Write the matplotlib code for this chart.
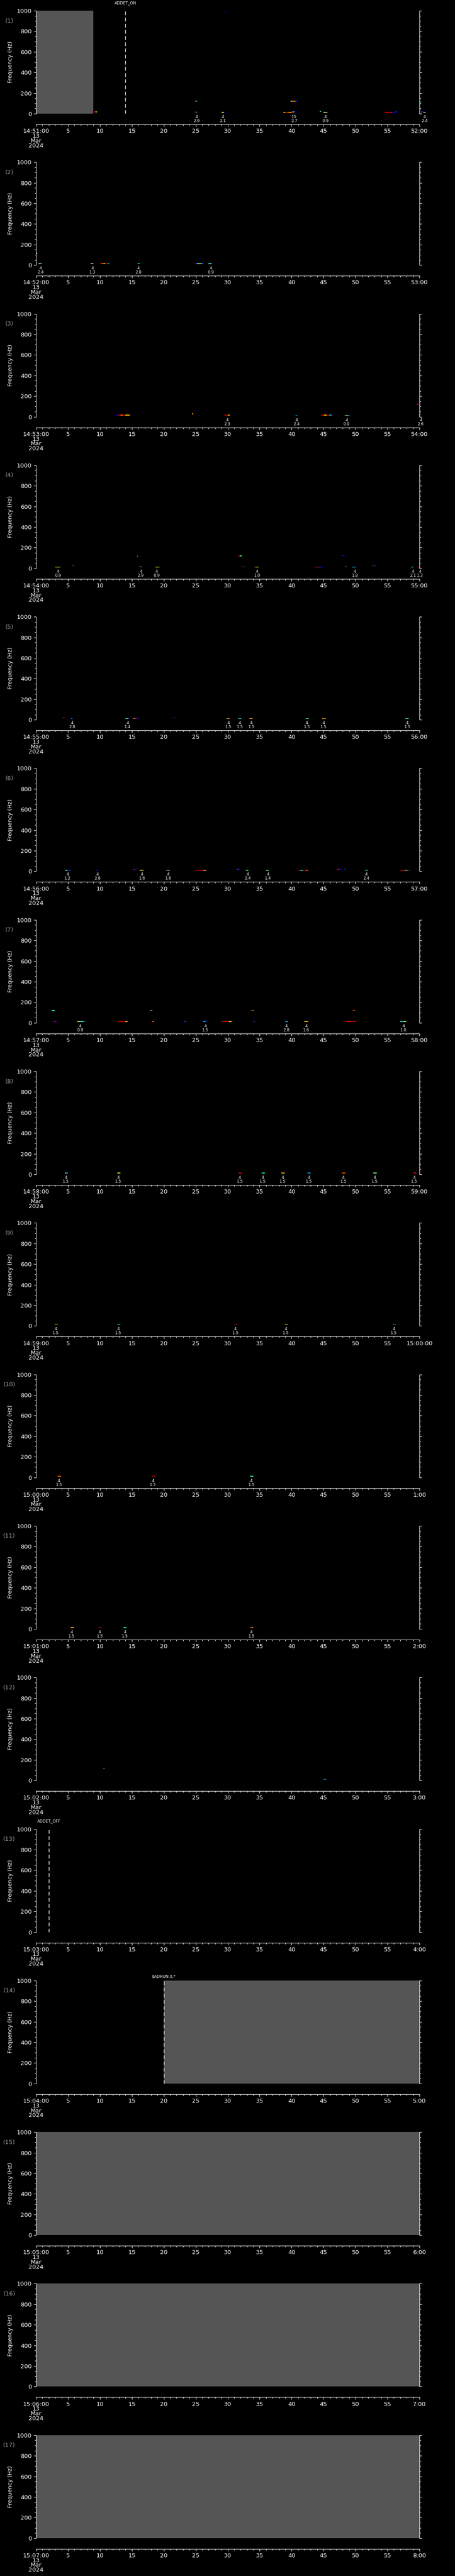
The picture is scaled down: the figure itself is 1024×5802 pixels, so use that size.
import matplotlib
matplotlib.use("Agg")
import matplotlib.pyplot as plt

W, H = 1024, 5802
N_PANELS = 17
SLOT = H / N_PANELS
DPI = 100
PT = 72.0 / DPI  # points per pixel

# ---- data -------------------------------------------------------------
start_labels = ["14:51:00", "14:52:00", "14:53:00", "14:54:00", "14:55:00",
                "14:56:00", "14:57:00", "14:58:00", "14:59:00", "15:00:00",
                "15:01:00", "15:02:00", "15:03:00", "15:04:00", "15:05:00",
                "15:06:00", "15:07:00"]
end_labels = ["52:00", "53:00", "54:00", "55:00", "56:00", "57:00", "58:00",
              "59:00", "15:00:00", "1:00", "2:00", "3:00", "4:00", "5:00",
              "6:00", "7:00", "8:00"]
date_label = "13\nMar\n2024"

# no-data (grey) intervals, seconds within the minute
gray_spans = {1: [(0, 9)], 14: [(20, 60)], 15: [(0, 60)], 16: [(0, 60)], 17: [(0, 60)]}

# command markers: (panel, second, text, label height above plot in px)
markers = [(1, 14.0, "ADDET_ON", 17.5), (13, 2.0, "ADDET_OFF", 17.5),
           (14, 20.0, "$ADRUN,0,*", 8.5)]

# spectral streaks: (t_start, t_end, freq Hz, colour levels along the streak)
streaks = {
    1: [(9.1, 9.7, 17, [0.9, 0.7, 0.1]), (24.8, 25.4, 122, [0.95, 0.4, 0.1]),
        (24.8, 25.4, 15, [0.95, 0.7, 0.3, 0.1]), (29.0, 29.5, 12, [0.3, 0.6, 0.7, 0.1]),
        (29.55, 29.8, 985, [0.15, 0.1]), (38.7, 40.3, 12, [0.7, 0.95, 0.8, 0.7, 0.95]),
        (40.1, 40.75, 17, [0.7, 0.2, 0.1]), (39.85, 40.85, 122, [0.55, 0.85, 0.75, 0.15]),
        (44.4, 44.7, 21, [0.5, 0.1]), (45.0, 45.7, 12, [0.7, 0.5, 0.2]),
        (54.5, 56.1, 12, [0.95, 0.9, 0.95, 0.9, 0.1]), (56.2, 56.5, 17, [0.15]),
        (60.0, 60.3, 112, [0.3]), (60.2, 60.6, 18, [0.15]), (60.6, 61.0, 12, [0.7, 0.3])],
    2: [(0.0, 0.2, 113, [0.4]), (0.1, 0.45, 21, [0.15]), (0.45, 0.9, 13, [0.7, 0.4]),
        (8.55, 9.15, 13, [0.4, 0.7, 0.5, 0.1]), (10.0, 11.45, 13, [0.95, 0.8, 0.7, 0.95, 0.3]),
        (15.9, 16.2, 13, [0.4]), (24.75, 25.1, 17, [0.95, 0.75]),
        (24.9, 26.3, 13, [0.15, 0.5, 0.7, 0.4, 0.15]), (27.0, 27.7, 13, [0.4, 0.5, 0.1])],
    3: [(12.5, 14.7, 15, [0.1, 0.95, 0.8, 0.95, 0.7, 0.7]), (24.4, 24.6, 28, [0.6, 0.8]),
        (25.45, 25.6, 14, [0.1]), (29.5, 30.3, 15, [0.95, 0.95, 0.7]),
        (40.6, 40.9, 14, [0.3]), (44.6, 46.3, 15, [0.95, 0.7, 0.95, 0.3]),
        (48.3, 49.1, 14, [0.7, 0.6, 0.3]), (59.6, 60.2, 120, [0.95, 0.1]),
        (59.8, 60.3, 18, [0.9, 0.2])],
    4: [(3.0, 3.8, 10, [0.7, 0.6]), (5.6, 5.9, 28, [0.95, 0.4]), (15.8, 16.0, 118, [0.6, 0.2]),
        (16.2, 16.6, 15, [0.7, 0.3]), (18.6, 19.3, 10, [0.7, 0.6]),
        (31.6, 32.2, 120, [0.95, 0.5]), (32.1, 32.7, 15, [0.95, 0.2]),
        (34.2, 34.8, 10, [0.8, 0.6]), (43.6, 44.9, 10, [0.95, 0.9, 0.2, 0.1]),
        (48.0, 48.4, 122, [0.2, 0.1]), (48.3, 48.7, 15, [0.8, 0.2]),
        (49.5, 50.1, 10, [0.4, 0.3]), (52.5, 53.1, 24, [0.95, 0.2]),
        (58.7, 59.1, 10, [0.5, 0.3]), (59.7, 60.2, 10, [0.95, 0.9])],
    5: [(4.2, 4.6, 20, [0.85, 0.95]), (5.5, 5.85, 12, [0.3, 0.1]), (14.0, 14.7, 12, [0.4, 0.6, 0.1]),
        (15.2, 16.0, 14, [0.8, 0.95, 0.1]), (21.3, 21.8, 20, [0.95, 0.1]),
        (29.8, 30.3, 12, [0.7]), (31.6, 32.1, 12, [0.4]), (33.4, 33.9, 12, [0.7]),
        (42.2, 42.7, 12, [0.4]), (44.8, 45.3, 12, [0.7]), (57.8, 58.3, 12, [0.4])],
    6: [(4.5, 5.4, 11, [0.4, 0.2]), (5.6, 5.7, 820, [0.1]), (9.45, 9.75, 11, [0.15]),
        (15.2, 15.7, 19, [0.95, 0.1]), (16.2, 16.8, 11, [0.7, 0.6]), (20.4, 20.9, 11, [0.8, 0.4]),
        (24.9, 26.6, 11, [0.95, 0.95, 0.9, 0.7]), (31.4, 31.9, 19, [0.95, 0.1]),
        (32.8, 33.2, 11, [0.5]), (36.0, 36.4, 11, [0.6, 0.4]),
        (41.0, 42.6, 11, [0.95, 0.4, 0.95, 0.8]), (47.1, 47.8, 19, [0.95, 0.1]),
        (48.2, 48.5, 21, [0.2]), (51.5, 51.9, 11, [0.4]), (56.9, 58.5, 11, [0.95, 0.9, 0.4, 0.95])],
    7: [(2.4, 2.95, 120, [0.35, 0.4]), (2.7, 3.3, 12, [0.95, 0.15]), (6.5, 7.45, 12, [0.6, 0.35, 0.5]),
        (7.5, 7.8, 14, [0.2]), (12.8, 14.35, 12, [0.95, 0.9, 0.95, 0.7]),
        (17.85, 18.2, 122, [0.45, 0.6]), (18.2, 18.5, 12, [0.8, 0.3]), (23.25, 23.5, 12, [0.2]),
        (26.2, 26.75, 12, [0.35, 0.15]), (29.0, 30.6, 12, [0.95, 0.9, 0.95, 0.6]),
        (33.6, 34.1, 122, [0.9, 0.6]), (33.9, 34.3, 14, [0.95, 0.2]), (39.0, 39.4, 12, [0.3]),
        (42.0, 42.6, 12, [0.7, 0.75]), (48.3, 50.1, 12, [0.95, 0.9, 0.95, 0.95]),
        (49.4, 49.9, 122, [0.95, 0.75]), (57.0, 57.9, 12, [0.4, 0.3, 0.6])],
    8: [(4.5, 5.0, 12, [0.7, 0.3]), (12.7, 13.2, 12, [0.6]), (31.7, 32.2, 12, [0.9]),
        (35.3, 35.8, 12, [0.4]), (38.4, 38.9, 12, [0.7]), (42.5, 43.0, 12, [0.3]),
        (47.9, 48.4, 12, [0.8]), (52.8, 53.3, 12, [0.5]), (59.0, 59.5, 12, [0.9])],
    9: [(2.9, 3.4, 12, [0.7]), (12.7, 13.2, 12, [0.4]), (31.0, 31.5, 12, [0.9]),
        (38.9, 39.4, 12, [0.6]), (55.8, 56.3, 12, [0.3])],
    10: [(3.4, 3.9, 12, [0.8]), (18.1, 18.6, 12, [0.95]), (33.5, 34.0, 12, [0.4])],
    11: [(5.4, 5.9, 12, [0.7]), (9.8, 10.3, 12, [0.95]), (13.7, 14.2, 12, [0.4]),
         (33.5, 34.0, 12, [0.8])],
    12: [(10.5, 10.8, 120, [0.4]), (45.0, 45.4, 12, [0.3])],
}

# event annotations under the plot: (second, count, value)
events = {
    1: [(25.1, "4", "2.9"), (29.25, "4", "2.1"), (40.4, "15", "2.7"), (45.3, "4", "0.9"),
        (60.8, "4", "2.4")],
    2: [(0.7, "4", "2.4"), (8.85, "4", "1.3"), (16.05, "4", "2.8"), (27.35, "4", "0.9")],
    3: [(29.9, "4", "2.3"), (40.8, "4", "2.4"), (48.6, "4", "0.9"), (60.2, "4", "2.6")],
    4: [(3.45, "4", "0.9"), (16.4, "4", "2.9"), (18.9, "4", "0.9"), (34.6, "4", "1.0"),
        (49.9, "4", "1.8"), (59.0, "4", "2.1"), (60.1, "4", "1.3")],
    5: [(5.65, "4", "2.8"), (14.35, "4", "1.4"), (30.1, "4", "1.5"), (31.9, "4", "1.5"),
        (33.7, "4", "1.5"), (42.4, "4", "1.5"), (45.0, "4", "1.5"), (58.1, "4", "1.5")],
    6: [(4.95, "4", "1.2"), (9.6, "4", "2.8"), (16.6, "4", "1.6"), (20.7, "4", "1.6"),
        (33.1, "4", "2.4"), (36.3, "4", "1.4"), (51.7, "4", "2.4")],
    7: [(6.9, "4", "0.9"), (26.5, "4", "1.5"), (39.2, "4", "2.8"), (42.3, "4", "1.6"),
        (57.5, "4", "1.0")],
    8: [(4.7, "4", "1.5"), (12.9, "4", "1.5"), (31.9, "4", "1.5"), (35.5, "4", "1.5"),
        (38.6, "4", "1.5"), (42.7, "4", "1.5"), (48.1, "4", "1.5"), (53.0, "4", "1.5"),
        (59.2, "4", "1.5")],
    9: [(3.1, "4", "1.5"), (12.9, "4", "1.5"), (31.2, "4", "1.5"), (39.1, "4", "1.5"),
        (56.0, "4", "1.5")],
    10: [(3.6, "4", "1.5"), (18.3, "4", "1.5"), (33.7, "4", "1.5")],
    11: [(5.6, "4", "1.5"), (10.0, "4", "1.5"), (13.9, "4", "1.5"), (33.7, "4", "1.5")],
}

# ---- layout (pixels) ----------------------------------------------------
AX_LEFT, AX_RIGHT = 81, 944
AX_TOP, AX_BOTTOM = 24, 256      # inside each slot
TIME_AXIS_OFFSET = 24            # time axis below plot bottom
STREAK_H = 7                     # streak thickness in Hz
cmap = plt.get_cmap("jet")

plt.rcParams["font.family"] = "DejaVu Sans"
fig = plt.figure(figsize=(W / DPI, H / DPI), dpi=DPI, facecolor="black")

for i in range(N_PANELS):
    p = i + 1
    top = i * SLOT
    ax = fig.add_axes([AX_LEFT / W, 1 - (top + AX_BOTTOM) / H,
                       (AX_RIGHT - AX_LEFT) / W, (AX_BOTTOM - AX_TOP) / H])
    ax.set_facecolor("black")
    ax.set_xlim(0, 60)
    ax.set_ylim(0, 1000)

    ax.spines["top"].set_visible(False)
    for s in ["left", "right", "bottom"]:
        ax.spines[s].set_color("white")
        ax.spines[s].set_linewidth(0.8)
    ax.spines["bottom"].set_position(("outward", TIME_AXIS_OFFSET * PT))

    ax.set_xticks(range(0, 61, 5))
    ax.set_xticks(range(0, 61), minor=True)
    ax.set_yticks(range(0, 1001, 200))
    ax.set_yticks(range(0, 1001, 50), minor=True)
    xl = [start_labels[i] + "\n" + date_label] + [str(v) for v in range(5, 56, 5)] + [end_labels[i]]
    ax.set_xticklabels(xl)
    ax.tick_params(which="both", direction="out", colors="white", width=0.8,
                   labelsize=9.5, right=True, labelright=False)
    ax.tick_params(which="major", length=5 * PT)
    ax.tick_params(which="minor", length=3 * PT)
    ax.tick_params(axis="x", pad=3)
    ax.tick_params(axis="y", pad=3.5)
    for lab in ax.get_xticklabels():
        lab.set_linespacing(0.78)

    for a, b in gray_spans.get(p, []):
        ax.axvspan(a, b, color="#555555", lw=0, zorder=0)

    for mp, t, txt, hpx in markers:
        if mp == p:
            ax.axvline(t, color="white", lw=1, ls=(0, (6, 4)), zorder=3)
            ax.annotate(txt, xy=(t, 1), xycoords=("data", "axes fraction"),
                        xytext=(0, hpx * PT), textcoords="offset points",
                        ha="center", va="center", color="white", fontsize=6.5)

    for t0, t1, f, levels in streaks.get(p, []):
        n = len(levels)
        w = (t1 - t0) / n
        ax.broken_barh([(t0 + k * w, w) for k in range(n)], (f - STREAK_H / 2, STREAK_H),
                       facecolors=[cmap(v) for v in levels], edgecolor="none",
                       clip_on=False, zorder=2)

    for t, cnt, val in events.get(p, []):
        ax.annotate(cnt, xy=(t, 0), xycoords=("data", "axes fraction"),
                    xytext=(0, -7.5 * PT), textcoords="offset points",
                    ha="center", va="center", color="white", fontsize=6.5,
                    annotation_clip=False)
        ax.annotate(val, xy=(t, 0), xycoords=("data", "axes fraction"),
                    xytext=(0, -16.5 * PT), textcoords="offset points",
                    ha="center", va="center", color="white", fontsize=6.5,
                    annotation_clip=False)

    fig.text(23.5 / W, 1 - (top + 140) / H, "Frequency (Hz)", rotation=90,
             ha="center", va="center", color="white", fontsize=9)
    fig.text(21 / W, 1 - (top + 47) / H, "(%d)" % p, ha="center", va="center",
             color="#9a9a9a", fontsize=9.5)

fig.savefig("out.png", dpi=DPI, facecolor="black")
